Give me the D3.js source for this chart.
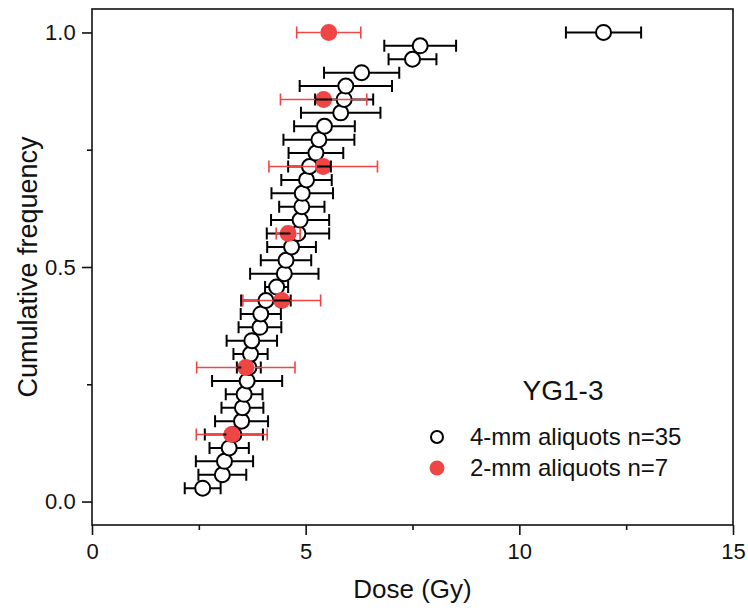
<!DOCTYPE html>
<html>
<head>
<meta charset="utf-8">
<script src="https://cdn.jsdelivr.net/npm/d3@7"></script>
<style>
body{margin:0;background:#fff;}
text{font-family:Arial,"Liberation Sans",sans-serif;fill:#111;}
</style>
</head>
<body>
<script>
// 4-mm aliquots, sorted by dose (Gy) and their errors
const dose4=[2.59,3.05,3.10,3.21,3.32,3.50,3.52,3.56,3.63,3.67,3.71,3.74,3.93,3.95,4.07,4.32,4.50,4.54,4.67,4.82,4.87,4.91,4.92,5.02,5.09,5.24,5.31,5.44,5.82,5.90,5.94,6.31,7.50,7.68,11.97];
const err4=[0.42,0.56,0.67,0.46,0.68,0.62,0.49,0.43,0.82,0.28,0.40,0.59,0.50,0.47,0.58,0.27,0.80,0.59,0.57,0.73,0.68,0.53,0.72,0.59,0.50,0.64,0.83,0.71,0.93,0.68,1.08,0.88,0.56,0.84,0.88];
// 2-mm aliquots
const dose2=[3.27,3.60,4.44,4.59,5.41,5.42,5.54];
const err2=[0.83,1.15,0.91,0.28,1.27,1.01,0.75];

const xTicks=[0,5,10,15], xMinor=[2.5,7.5,12.5];
const yTicks=[0,0.5,1.0], yMinor=[0.25,0.75];
const sample="YG1-3";
const legendLabels=["4-mm aliquots n=35","2-mm aliquots n=7"];

const W=748,H=610;
const red="#f04545";
const svg=d3.select("body").append("svg").attr("width",W).attr("height",H);

const x=d3.scaleLinear().domain([0,15]).range([92,733]);
const y=d3.scaleLinear().domain([-0.05,1.05]).range([525,9]);

// cumulative frequency = rank / n
const pts4=dose4.map((d,i)=>({d:d,e:err4[i],f:(i+1)/dose4.length}));
const pts2=dose2.map((d,i)=>({d:d,e:err2[i],f:(i+1)/dose2.length}));

// axes
const xAxis=svg.append("g").attr("transform","translate(0,525)")
  .call(d3.axisBottom(x).tickValues(xTicks).tickSize(10).tickFormat(d3.format("d")));
svg.append("g").attr("transform","translate(0,525)")
  .call(d3.axisBottom(x).tickValues(xMinor).tickSize(5).tickFormat(""));
const yAxis=svg.append("g").attr("transform","translate(92,0)")
  .call(d3.axisLeft(y).tickValues(yTicks).tickSize(10).tickFormat(d3.format(".1f")));
svg.append("g").attr("transform","translate(92,0)")
  .call(d3.axisLeft(y).tickValues(yMinor).tickSize(5).tickFormat(""));
svg.selectAll(".domain").remove();
svg.selectAll(".tick line").attr("stroke","#111").attr("stroke-width",1.6);
svg.selectAll(".tick text").style("font-size","22px");
xAxis.selectAll(".tick text").attr("dy","0.95em");
yAxis.selectAll(".tick text").attr("dx","-0.15em");

svg.append("rect").attr("x",92).attr("y",9).attr("width",641).attr("height",516)
  .attr("fill","none").attr("stroke","#111").attr("stroke-width",1.6);

svg.append("text").attr("x",(92+733)/2).attr("y",598).attr("text-anchor","middle")
  .style("font-size","26px").text("Dose (Gy)");
svg.append("text").attr("transform","translate(37,"+(y(0.5))+") rotate(-90)")
  .attr("text-anchor","middle").style("font-size","27px").text("Cumulative frequency");

const r4=7.5,r2=8.5,cap=6;

// symbols first, error bars drawn from symbol edge outward
const g=svg.append("g");
g.selectAll("circle.open").data(pts4).enter().append("circle")
  .attr("cx",p=>x(p.d)).attr("cy",p=>y(p.f)).attr("r",r4)
  .attr("fill","#fff").attr("stroke","#000").attr("stroke-width",2);
g.selectAll("circle.red").data(pts2).enter().append("circle")
  .attr("cx",p=>x(p.d)).attr("cy",p=>y(p.f)).attr("r",r2)
  .attr("fill",red);

function errBars(data,r,col,sw){
  const eg=svg.append("g").attr("stroke",col).attr("stroke-width",sw).attr("fill","none");
  eg.selectAll("path").data(data).enter().append("path")
    .attr("d",p=>{
      const cx=x(p.d),cy=y(p.f),l=x(p.d-p.e),rr=x(p.d+p.e);
      let s="M"+l+","+(cy-cap)+"V"+(cy+cap)+"M"+rr+","+(cy-cap)+"V"+(cy+cap);
      if(cx-r>l) s+="M"+l+","+cy+"H"+(cx-r);
      if(cx+r<rr) s+="M"+(cx+r)+","+cy+"H"+rr;
      return s;
    });
}
errBars(pts4,r4,"#000",2);
errBars(pts2,r2,red,1.6);

// legend
svg.append("text").attr("x",563).attr("y",400).attr("text-anchor","middle")
  .style("font-size","28px").text(sample);
svg.append("circle").attr("cx",437).attr("cy",437).attr("r",6)
  .attr("fill","#fff").attr("stroke","#000").attr("stroke-width",2);
svg.append("circle").attr("cx",437).attr("cy",468).attr("r",7.5).attr("fill",red);
legendLabels.forEach((t,i)=>{
  svg.append("text").attr("x",470).attr("y",437+31*i).attr("dy","0.35em")
    .style("font-size","24px").text(t);
});
</script>
</body>
</html>
